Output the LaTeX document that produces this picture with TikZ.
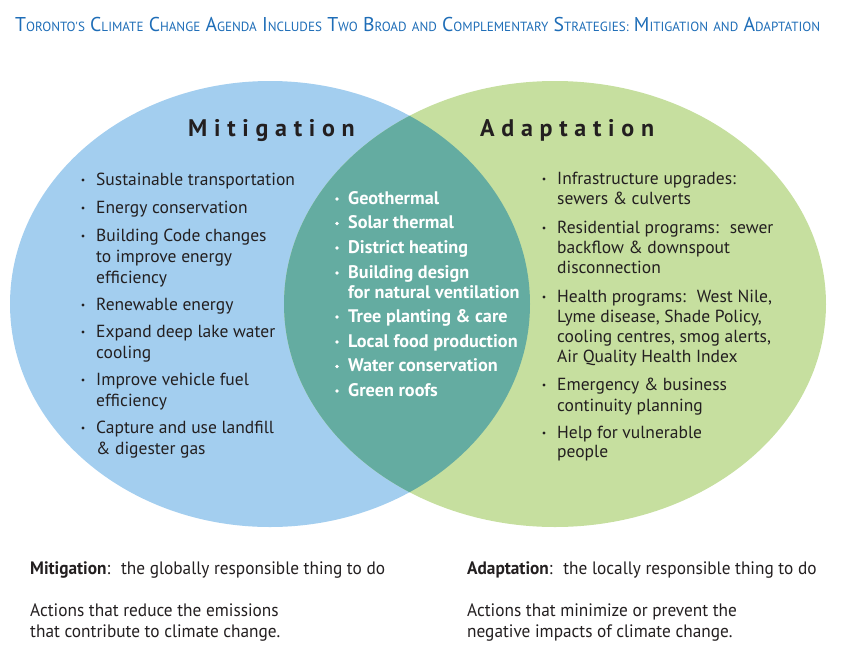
\documentclass[tikz,border=0pt]{standalone}
\usepackage{fontspec}
\setmainfont{PT Sans}
\newfontfamily\titlefont[FakeStretch=0.985]{PT Sans}
\newfontfamily\narrowfont[FakeStretch=0.96]{PT Sans}
\newfontfamily\headfont[LetterSpace=28]{PT Sans}
\usepackage{tikz}
\definecolor{mitblue}{HTML}{A3CEEF}
\definecolor{adagreen}{HTML}{C6DF9F}
\definecolor{bothteal}{HTML}{64ACA1}
\definecolor{titleblue}{HTML}{1E6DB7}
\definecolor{inkblack}{HTML}{231F20}
\newcommand{\capword}[2]{#1{\fontsize{13.3}{14}\selectfont #2}}
\newcommand{\smword}[1]{{\fontsize{13.3}{14}\selectfont #1}}

\begin{document}
\begin{tikzpicture}[x=1pt,y=-1pt,
  listtext/.style={anchor=base west,inner sep=0pt,text=inkblack,font=\fontsize{17.5}{20}\selectfont},
  bothtext/.style={anchor=base west,inner sep=0pt,text=white,font=\fontsize{18.2}{20}\selectfont\bfseries},
  headtext/.style={anchor=base west,inner sep=0pt,text=inkblack,font=\fontsize{24}{28}\headfont\bfseries},
  foottext/.style={anchor=base west,inner sep=0pt,text=inkblack,font=\fontsize{18}{20}\narrowfont}]
\useasboundingbox (0,0) rectangle (852,651);
% the two circles
\fill[mitblue] (270,304) ellipse [x radius=260,y radius=223];
\fill[adagreen] (555,304) ellipse [x radius=271,y radius=223];
\begin{scope}
\clip (270,304) ellipse [x radius=260,y radius=223];
\fill[bothteal] (555,304) ellipse [x radius=271,y radius=223];
\end{scope}
% title
\node[anchor=base west,inner sep=0pt,text=titleblue,font=\fontsize{20}{24}\titlefont] (title) at (15,31.7)
{\capword{T}{ORONTO'S} \capword{C}{LIMATE} \capword{C}{HANGE} \capword{A}{GENDA} \capword{I}{NCLUDES} \capword{T}{WO} \capword{B}{ROAD} \smword{AND} \capword{C}{OMPLEMENTARY} \capword{S}{TRATEGIES:} \capword{M}{ITIGATION} \smword{AND} \capword{A}{DAPTATION}};
% headings
\node[headtext] (mithead) at (188,136) {Mitigation};
\node[headtext] (adahead) at (480,136) {Adaptation};
% mitigation list
\foreach \yb/\txt [count=\i] in {185/Sustainable transportation,213/Energy conservation,
  241/Building Code changes,262/to improve energy,283/efficiency,310/Renewable energy,
  337/Expand deep lake water,358/cooling,385/Improve vehicle fuel,406/efficiency,
  433/Capture and use landfill,454/\& digester gas}
  \node[listtext] (mit\i) at (96,\yb) {\txt};
\foreach \yb in {185,213,241,310,337,385,433}
  \fill[inkblack] (83,\yb-5) circle (1.7);
% common list
\foreach \yb/\txt [count=\i] in {204/Geothermal,228.5/Solar thermal,253/District heating,
  278/Building design,298/for natural ventilation,322/Tree planting \& care,
  347/Local food production,371.5/Water conservation,396/Green roofs}
  \node[bothtext] (both\i) at (348,\yb) {\txt};
\foreach \yb in {204,228.5,253,278,322,347,371.5,396}
  \fill[white] (337,\yb-5) circle (1.9);
% adaptation list
\foreach \yb/\txt [count=\i] in {184/Infrastructure upgrades:,204/sewers \& culverts,
  233/Residential programs:~ sewer,253/backflow \& downspout,273/disconnection,
  {302/Health programs:~ West Nile,},{322/Lyme disease, Shade Policy,},
  {342/cooling centres, smog alerts,},362/Air Quality Health Index,
  390/Emergency \& business,411/continuity planning,438/Help for vulnerable,457/people}
  \node[listtext] (ada\i) at (557,\yb) {\txt};
\foreach \yb in {184,233,302,390,438}
  \fill[inkblack] (544,\yb-5) circle (1.7);
% notes below
\node[foottext] (mitnote) at (30,574) {\textbf{Mitigation}:~ the globally responsible thing to do};
\node[foottext] (mitact1) at (30,616) {Actions that reduce the emissions};
\node[foottext] (mitact2) at (30,637) {that contribute to climate change.};
\node[foottext] (adanote) at (467,574) {\textbf{Adaptation}:~ the locally responsible thing to do};
\node[foottext] (adaact1) at (467,616) {Actions that minimize or prevent the};
\node[foottext] (adaact2) at (467,637) {negative impacts of climate change.};
\end{tikzpicture}
\end{document}
